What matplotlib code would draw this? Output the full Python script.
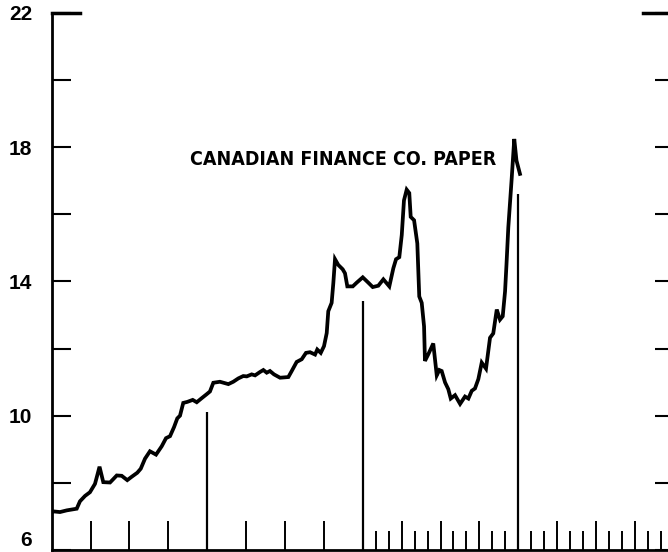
import matplotlib
matplotlib.use('Agg')
import matplotlib.pyplot as plt

# Canadian finance company paper rate
# months since start of the first year shown, and rate in percent
months = [0.00, 0.12, 0.64, 1.16, 1.93, 2.18, 2.57, 2.95, 3.34, 3.50,
          3.69, 3.98, 4.50, 4.75, 5.02, 5.40, 5.83, 6.17, 6.60, 6.87,
          7.20, 7.58, 8.05, 8.49, 8.82, 9.13, 9.44, 9.69, 9.90, 10.15,
          10.46, 10.88, 11.19, 11.57, 11.96, 12.21, 12.47, 12.98, 13.63, 14.01,
          14.40, 14.78, 15.05, 15.43, 15.69, 16.07, 16.33, 16.59, 16.84, 17.15,
          17.62, 18.26, 18.52, 18.90, 19.29, 19.62, 19.93, 20.32, 20.49, 20.76,
          21.01, 21.22, 21.34, 21.60, 21.73, 21.86, 22.11, 22.45, 22.63, 22.81,
          23.23, 23.53, 24.00, 24.43, 24.77, 25.20, 25.59, 26.05, 26.36, 26.57,
          26.82, 27.01, 27.18, 27.39, 27.59, 27.70, 27.96, 28.21, 28.36, 28.55,
          28.73, 28.80, 29.06, 29.44, 29.71, 29.91, 30.09, 30.35, 30.60, 30.79,
          31.12, 31.51, 31.89, 32.15, 32.41, 32.66, 32.92, 33.18, 33.51, 33.82,
          34.07, 34.34, 34.59, 34.80, 34.98, 35.09, 35.23, 35.49, 35.69, 35.86,
          36.13]
rate = [7.12, 7.15, 7.13, 7.18, 7.23, 7.45, 7.61, 7.72, 7.97, 8.20,
        8.48, 8.02, 8.01, 8.11, 8.22, 8.21, 8.08, 8.18, 8.30, 8.42,
        8.72, 8.94, 8.84, 9.09, 9.33, 9.39, 9.66, 9.92, 10.00, 10.38,
        10.41, 10.47, 10.40, 10.52, 10.64, 10.72, 10.98, 11.01, 10.94, 11.01,
        11.11, 11.18, 11.17, 11.23, 11.20, 11.30, 11.36, 11.28, 11.33, 11.23,
        11.13, 11.15, 11.33, 11.60, 11.68, 11.87, 11.89, 11.82, 11.97, 11.87,
        12.07, 12.46, 13.11, 13.36, 13.95, 14.66, 14.49, 14.36, 14.24, 13.85,
        13.85, 13.96, 14.12, 13.96, 13.83, 13.87, 14.06, 13.85, 14.39, 14.66,
        14.72, 15.38, 16.41, 16.73, 16.63, 15.92, 15.82, 15.13, 13.55, 13.36,
        12.66, 11.63, 11.83, 12.15, 11.20, 11.36, 11.33, 10.99, 10.79, 10.51,
        10.61, 10.35, 10.57, 10.51, 10.74, 10.81, 11.09, 11.58, 11.40, 12.32,
        12.45, 13.16, 12.86, 12.96, 13.70, 14.50, 15.60, 17.05, 18.24, 17.60,
        17.20]

# year separators and how high each one reaches
year_marks = [12, 24, 36]
year_mark_tops = [10.1, 13.4, 16.6]

# bottom ticks: quarters in every year, single months in the last two
quarter_ticks = [3, 6, 9, 15, 18, 21, 27, 30, 33, 39, 42, 45]
month_ticks = [25, 26, 28, 29, 31, 32, 34, 35, 37, 38, 40, 41, 43, 44, 46, 47]

y_ticks = [6, 10, 14, 18, 22]
y_minor = [8, 12, 16, 20]

title = 'CANADIAN FINANCE CO. PAPER'

W, H = 668, 552
fig = plt.figure(figsize=(W / 100, H / 100), dpi=100)
ax = fig.add_axes([51.7 / W, 2 / H, 622.1 / W, (550 - 12.7) / H])

ax.plot(months, rate, color='black', lw=2.7, solid_joinstyle='miter')
ax.vlines(year_marks, 6, year_mark_tops, color='black', lw=1.6)

ax.set_xlim(0, 48)
ax.set_ylim(6, 22)

ax.spines['top'].set_visible(False)
for s in ['left', 'bottom', 'right']:
    ax.spines[s].set_linewidth(2.0)

ax.set_xticks(quarter_ticks)
ax.set_xticks(month_ticks, minor=True)
ax.set_xticklabels([])
ax.tick_params(axis='x', which='major', direction='in', length=21, width=1.4)
ax.tick_params(axis='x', which='minor', direction='in', length=14, width=1.4)

ax.set_yticks(y_ticks)
ax.set_yticks(y_minor, minor=True)
ax.set_yticklabels([str(v) for v in y_ticks], fontsize=15, fontweight='bold',
                   family=['Liberation Sans', 'DejaVu Sans'])
ax.tick_params(axis='y', which='both', direction='in', length=14, width=1.5,
               right=True, pad=14)
ax.get_yticklabels()[0].set_va('bottom')

# heavier cap at the top of the scale
ax.axhline(22, xmin=0, xmax=28 / 622, color='black', lw=2.5, clip_on=False)
ax.axhline(22, xmin=1 - 31 / 622, xmax=1, color='black', lw=2.5, clip_on=False)

ax.text(22.5, 17.62, title, ha='center', va='center', fontsize=14,
        fontweight='bold', fontstretch='condensed',
        family=['Liberation Sans Narrow', 'DejaVu Sans'])

fig.savefig('out.png', dpi=100)
